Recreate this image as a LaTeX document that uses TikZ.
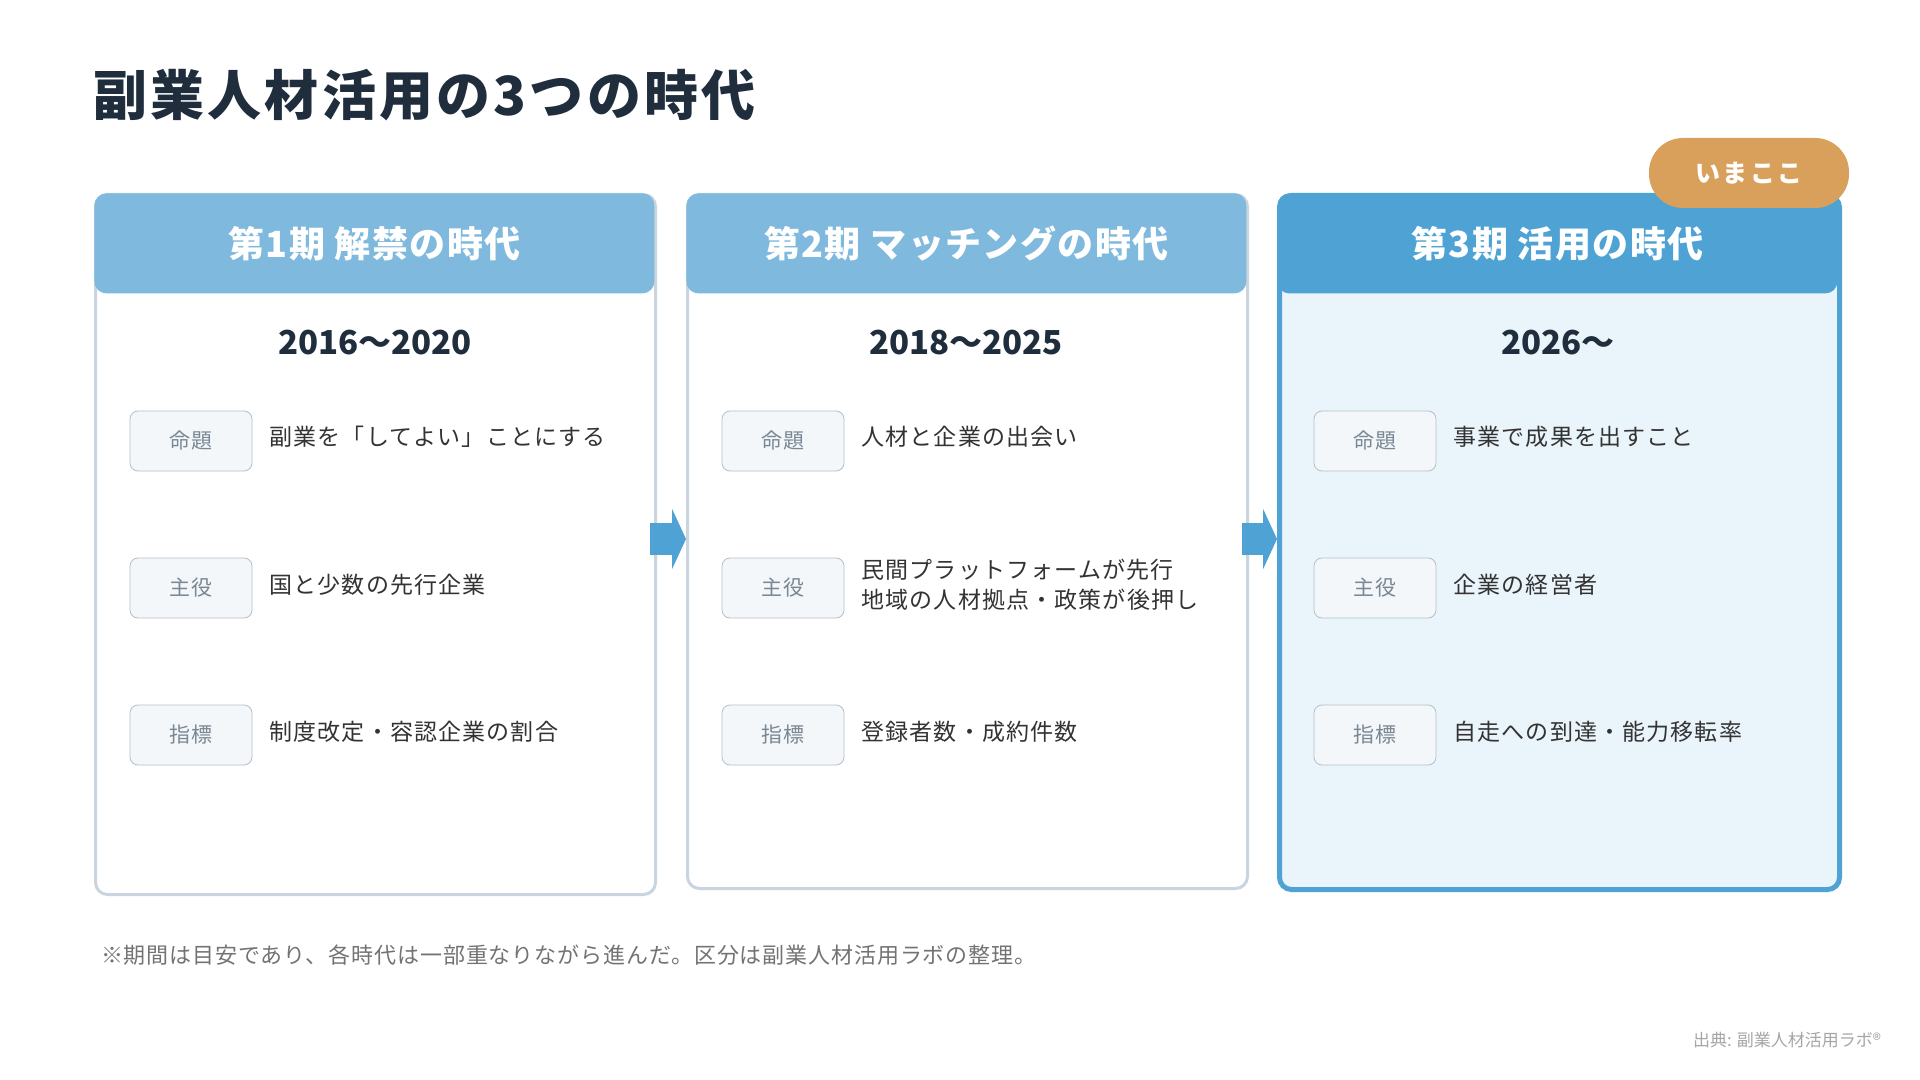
\documentclass[tikz,border=0pt]{standalone}
\usepackage{fontspec}
\setmainfont{Noto Sans CJK JP}
\usetikzlibrary{positioning,arrows.meta}
\definecolor{myink}{HTML}{1F2D3D}
\definecolor{myhead}{HTML}{7FB9DD}
\definecolor{mynow}{HTML}{4FA3D4}
\definecolor{mypale}{HTML}{EAF4FB}
\definecolor{myedge}{HTML}{C9D4DE}
\definecolor{mytagbg}{HTML}{F3F7FA}
\definecolor{mytagtx}{HTML}{7A8794}
\definecolor{mygold}{HTML}{D9A05B}
\newcommand{\spaced}[1]{\addfontfeatures{LetterSpace=#1}}
\tikzset{
  card/.style={draw=myedge,line width=1.5pt,fill=white,rounded corners=6pt,anchor=north west,minimum width=280pt,minimum height=#1,inner sep=0pt},
  head/.style={fill=#1,rounded corners=6pt,anchor=north west,minimum width=280pt,minimum height=50pt,inner sep=0pt,text=white,font=\fontsize{18}{20}\selectfont\bfseries\spaced{4}},
  year/.style={font=\fontsize{16.5}{18}\selectfont\bfseries,text=myink},
  tag/.style={draw=myedge!90!black,fill=mytagbg,rounded corners=4pt,minimum width=61pt,minimum height=30pt,inner sep=0pt,text=mytagtx,font=\fontsize{10.5}{12}\selectfont\spaced{5}},
  item/.style={anchor=west,text=black!80,font=\fontsize{11.5}{15}\selectfont\spaced{5},align=left,inner sep=0pt},
  nextera/.style={draw=mynow,line width=16pt,-{Triangle[width=30pt,length=7pt]}}
}
\begin{document}
\begin{tikzpicture}[x=0.5pt,y=-0.5pt]
\useasboundingbox[fill=white] (0,0) rectangle (1920,1080);
\node[anchor=west,text=myink,font=\fontsize{27}{30}\selectfont\bfseries\spaced{6}] (title) at (86,95) {副業人材活用の3つの時代};
% cards
\node[card=350pt] (c1) at (94,193) {};
\node[card=347pt] (c2) at (686,193) {};
\node[card=347pt,draw=mynow,fill=mypale,line width=2.5pt] (c3) at (1277,193) {};
\node[head=myhead] (h1) at (94,193) {第1期 解禁の時代};
\node[head=myhead] (h2) at (686,193) {第2期 マッチングの時代};
\node[head=mynow] (h3) at (1277,193) {第3期 活用の時代};
\node[fill=mygold,rounded corners=17pt,minimum width=100pt,minimum height=35pt,text=white,font=\fontsize{12.5}{14}\selectfont\bfseries\spaced{10}] (now) at (1749,173) {いまここ};
% years
\node[year] (y1) at (375,343) {2016〜2020};
\node[year] (y2) at (966,343) {2018〜2025};
\node[year] (y3) at (1558,343) {2026〜};
% rows
\node[tag] (t11) at (191,441) {命題};
\node[tag] (t12) at (191,588) {主役};
\node[tag] (t13) at (191,735) {指標};
\node[tag] (t21) at (783,441) {命題};
\node[tag] (t22) at (783,588) {主役};
\node[tag] (t23) at (783,735) {指標};
\node[tag] (t31) at (1375,441) {命題};
\node[tag] (t32) at (1375,588) {主役};
\node[tag] (t33) at (1375,735) {指標};
\node[item] at (269,437) {副業を「してよい」ことにする};
\node[item] at (269,585) {国と少数の先行企業};
\node[item] at (269,732) {制度改定・容認企業の割合};
\node[item] at (861,437) {人材と企業の出会い};
\node[item] at (861,585) {民間プラットフォームが先行\\地域の人材拠点・政策が後押し};
\node[item] at (861,732) {登録者数・成約件数};
\node[item] at (1453,437) {事業で成果を出すこと};
\node[item] at (1453,585) {企業の経営者};
\node[item] at (1453,732) {自走への到達・能力移転率};
% arrows
\coordinate (a1) at (650,539);
\coordinate (b1) at (686,539);
\coordinate (a2) at (1242,539);
\coordinate (b2) at (1277,539);
\draw[nextera] (a1) -- (b1);
\draw[nextera] (a2) -- (b2);
\node[anchor=west,text=black!55,font=\fontsize{11}{12}\selectfont\spaced{4}] (note) at (94,955) {※期間は目安であり、各時代は一部重なりながら進んだ。区分は副業人材活用ラボの整理。};
\node[anchor=east,text=black!35,font=\fontsize{8.5}{10}\selectfont] (src) at (1888,1040) {出典: 副業人材活用ラボ®};
\end{tikzpicture}
\end{document}
